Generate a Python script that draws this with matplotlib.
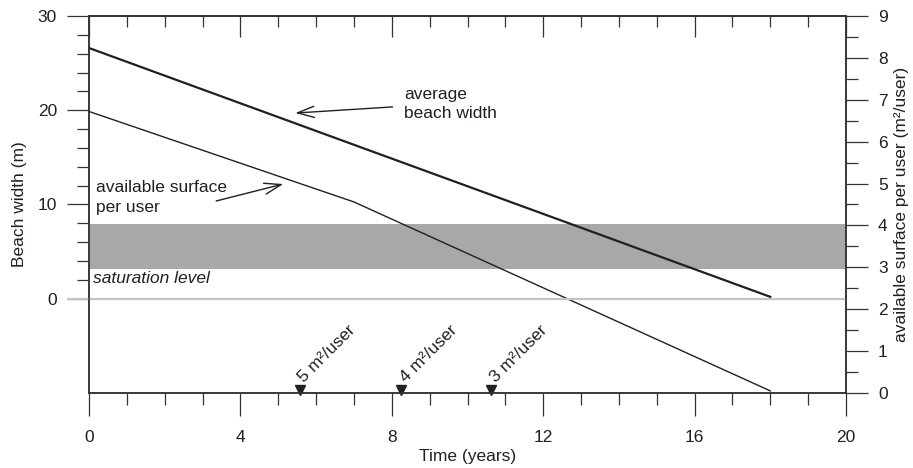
import matplotlib
matplotlib.use('Agg')
import matplotlib.pyplot as plt
from matplotlib.ticker import FixedLocator, MultipleLocator
from matplotlib.transforms import blended_transform_factory

plt.rcParams['font.family'] = ['Liberation Sans', 'DejaVu Sans']
plt.rcParams['font.size'] = 12.5

# ---------------- data ----------------
years_width = [0, 18]
beach_width = [26.6, 0.2]                 # m (left axis)
years_surface = [0, 7, 18]
surface_per_user = [6.72, 4.56, 0.05]     # m2/user (right axis)
saturation_low, saturation_high = 2.97, 4.03   # m2/user
threshold_years = [5.57, 8.25, 10.62]
threshold_labels = ['5 m²/user', '4 m²/user', '3 m²/user']
left_major = [0, 10, 20, 30]
left_minor = [2, 4, 6, 8, 12, 14, 16, 18, 22, 24, 26, 28]

INK = '#231f20'
AXC = '#333333'

fig = plt.figure(figsize=(9.13, 4.68), dpi=100)
ax = fig.add_axes([0.0975, 0.1603, 0.8291, 0.8056])
ax2 = ax.twinx()
ax.set_zorder(ax2.get_zorder() + 1)
ax.patch.set_visible(False)

ax.set_xlim(0, 20)
ax.set_ylim(-10, 30)
ax2.set_ylim(0, 9)

# band and surface line on right axis
ax2.axhspan(saturation_low, saturation_high, color='#a7a8aa', lw=0, zorder=1)
ax2.plot(years_surface, surface_per_user, color=INK, lw=1.0, zorder=3)
ax2.plot(threshold_years, [0.07] * len(threshold_years), ls='none', marker='v',
         ms=7.5, color=INK, clip_on=False, zorder=4)
for t, lab in zip(threshold_years, threshold_labels):
    ax2.text(t + 0.12, 0.23, lab, rotation=45, rotation_mode='anchor',
             ha='left', va='baseline', color=INK, fontsize=12.5)

# zero line and beach width on left axis
tr = blended_transform_factory(ax.transAxes, ax.transData)
ax.plot([-0.029, 1.0], [0, 0], transform=tr, color='#c4c4c4', lw=1.6,
        clip_on=False, zorder=2, solid_capstyle='butt')
ax.plot(years_width, beach_width, color=INK, lw=1.6, zorder=3)

# annotations
ax.text(8.33, 20.7, 'average\nbeach width', ha='left', va='center',
        color=INK, linespacing=1.35)
ax.annotate('', xy=(5.45, 19.7), xytext=(8.02, 20.35),
            arrowprops=dict(arrowstyle='->, head_length=0.6, head_width=0.2',
                            lw=1.0, color=INK, shrinkA=0, shrinkB=0,
                            mutation_scale=20))
ax.text(0.19, 10.75, 'available surface\nper user', ha='left', va='center',
        color=INK, linespacing=1.35)
ax.annotate('', xy=(5.13, 12.17), xytext=(3.36, 10.37),
            arrowprops=dict(arrowstyle='->, head_length=0.6, head_width=0.2',
                            lw=1.0, color=INK, shrinkA=0, shrinkB=0,
                            mutation_scale=20))
ax.text(0.1, 2.1, 'saturation level', style='italic', ha='left',
        va='center', color=INK)

# ticks
ax.xaxis.set_major_locator(MultipleLocator(4))
ax.xaxis.set_minor_locator(MultipleLocator(1))
ax.tick_params(axis='x', which='major', direction='out', length=16.5,
               width=0.9, color=AXC, pad=10, labelcolor=INK)
ax.tick_params(axis='x', which='minor', direction='out', length=8.6,
               width=0.9, color=AXC)
ax.yaxis.set_major_locator(FixedLocator(left_major))
ax.yaxis.set_minor_locator(FixedLocator(left_minor))
ax.tick_params(axis='y', which='major', direction='out', length=16,
               width=0.9, color=AXC, pad=7, labelcolor=INK)
ax.tick_params(axis='y', which='minor', direction='out', length=8.6,
               width=0.9, color=AXC)
ax.yaxis.get_major_ticks()[0].tick1line.set_color('#c4c4c4')

ax2.yaxis.set_major_locator(MultipleLocator(1))
ax2.yaxis.set_minor_locator(MultipleLocator(0.5))
ax2.tick_params(axis='y', which='major', direction='out', length=16,
                width=0.9, color=AXC, pad=7, labelcolor=INK)
ax2.tick_params(axis='y', which='minor', direction='out', length=8.6,
                width=0.9, color=AXC)

top = ax.secondary_xaxis('top')
top.xaxis.set_major_locator(MultipleLocator(4))
top.xaxis.set_minor_locator(MultipleLocator(1))
top.tick_params(axis='x', which='major', direction='in', length=15,
                width=0.9, color=AXC, labeltop=False)
top.tick_params(axis='x', which='minor', direction='in', length=8,
                width=0.9, color=AXC)
top.spines['top'].set_color(AXC)
top.spines['top'].set_linewidth(1.1)

for a in (ax, ax2):
    for s in a.spines.values():
        s.set_color(AXC)
        s.set_linewidth(1.1)

ax.set_xlabel('Time (years)', color=INK)
ax.xaxis.set_label_coords(0.5, -0.148)
ax.set_ylabel('Beach width (m)', color=INK)
ax.yaxis.set_label_coords(-0.082, 0.5)
ax2.set_ylabel('available surface per user (m²/user)', color=INK)
ax2.yaxis.set_label_coords(1.064, 0.5)

fig.savefig('out.png', dpi=100)
